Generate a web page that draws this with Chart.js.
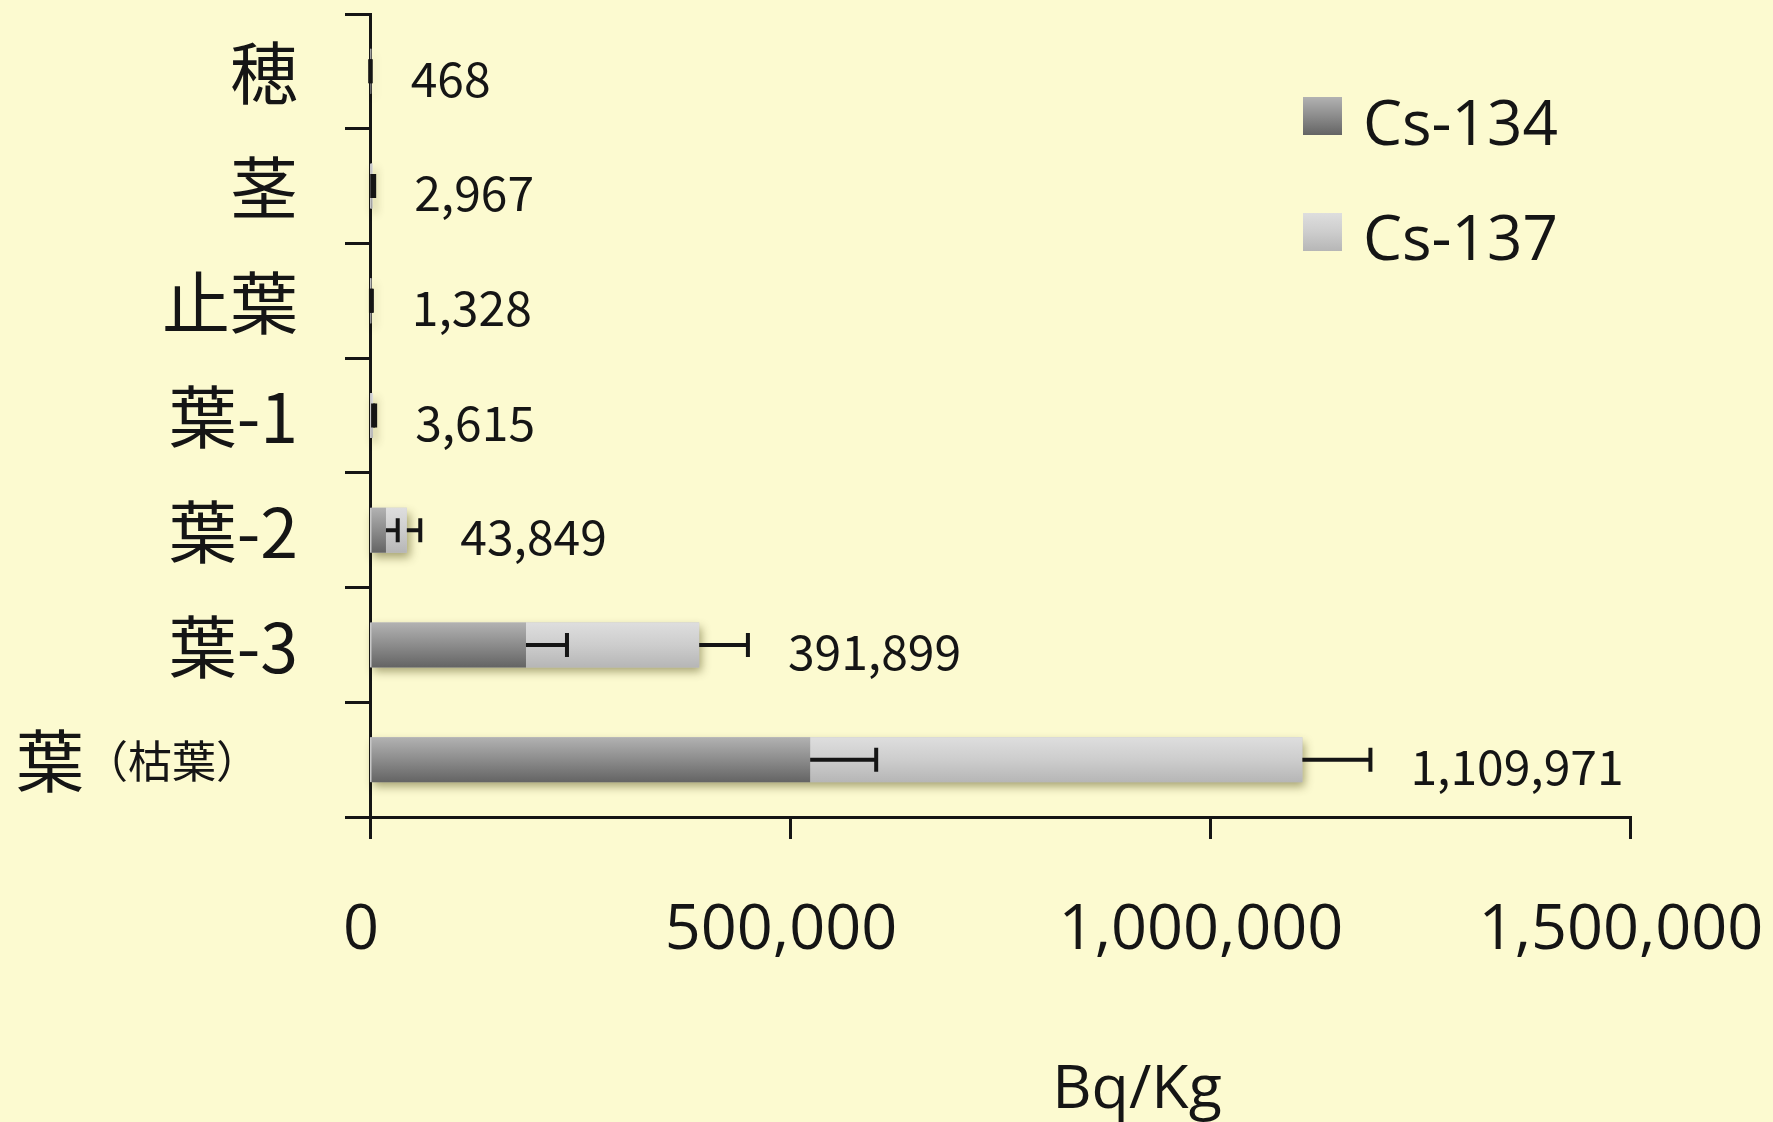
<!DOCTYPE html>
<html>
<head>
<meta charset="utf-8">
<script src="https://cdn.jsdelivr.net/npm/chart.js@4.4.1/dist/chart.umd.min.js"></script>
<style>
  html, body { margin: 0; padding: 0; background: #fcfad0; }
  #wrap { width: 1773px; height: 1122px; position: relative; }
  canvas { display: block; }
</style>
</head>
<body>
<div id="wrap"><canvas id="c" width="1773" height="1122"></canvas></div>
<script>
// ---- data ----
const categories = ['穂', '茎', '止葉', '葉-1', '葉-2', '葉-3', '葉（枯葉）'];
const seriesNames = ['Cs-134', 'Cs-137'];
const cs134 = [210, 1400, 620, 1700, 19000, 185700, 524000];
const cs137 = [258, 1567, 708, 1915, 24849, 206199, 585971];
const err134 = [150, 1300, 500, 2000, 14000, 48800, 78600];
const errTotal = [300, 2000, 900, 2500, 16000, 58000, 81000];
const totals = [468, 2967, 1328, 3615, 43849, 391899, 1109971];
const xTicks = [0, 500000, 1000000, 1500000];
const axisTitle = 'Bq/Kg';

// ---- styling ----
const BG = '#fcfad0';
const INK = '#151515';
const gradStops = {
  'Cs-134': ['#b2b2b2', '#8c8c8c', '#646464'],
  'Cs-137': ['#dedede', '#cdcdcd', '#b6b6b6']
};
const BAR_FRACTION = 0.392;

function makeGrad(ctx2d, y0, y1, name) {
  const g = ctx2d.createLinearGradient(0, y0, 0, y1);
  const s = gradStops[name];
  g.addColorStop(0, s[0]);
  g.addColorStop(0.5, s[1]);
  g.addColorStop(1, s[2]);
  return g;
}

function barColor(name) {
  return function (c) {
    const chart = c.chart;
    const y = chart.scales && chart.scales.y;
    if (!chart.chartArea || !y || c.dataIndex === undefined) return gradStops[name][1];
    const cat = (y.bottom - y.top) / categories.length;
    const mid = y.getPixelForValue(c.dataIndex);
    const h = cat * BAR_FRACTION / 2;
    return makeGrad(chart.ctx, mid - h, mid + h, name);
  };
}

const bgPlugin = {
  id: 'bg',
  beforeDraw(chart) {
    const ctx = chart.ctx;
    ctx.save();
    ctx.fillStyle = BG;
    ctx.fillRect(0, 0, chart.width, chart.height);
    ctx.restore();
  }
};

// soft drop shadow under every stacked bar
const shadowPlugin = {
  id: 'shadow',
  beforeDatasetsDraw(chart) {
    const ctx = chart.ctx, x = chart.scales.x, y = chart.scales.y;
    const cat = (y.bottom - y.top) / categories.length;
    const h = cat * BAR_FRACTION;
    ctx.save();
    ctx.shadowColor = 'rgba(60,55,0,0.45)';
    ctx.shadowBlur = 9;
    ctx.shadowOffsetX = 3;
    ctx.shadowOffsetY = 5;
    ctx.fillStyle = '#c8c8c8';
    for (let i = 0; i < categories.length; i++) {
      const mid = y.getPixelForValue(i);
      const x0 = x.getPixelForValue(0);
      const x1 = x.getPixelForValue(cs134[i] + cs137[i]);
      ctx.fillRect(x0, mid - h / 2, x1 - x0, h);
    }
    ctx.restore();
  }
};

// error bars, value labels, category labels, legend, axis title
const overlayPlugin = {
  id: 'overlay',
  afterDatasetsDraw(chart) {
    const ctx = chart.ctx, x = chart.scales.x, y = chart.scales.y;
    ctx.save();
    ctx.strokeStyle = INK;
    ctx.lineWidth = 4;
    const capH = 24;
    for (let i = 0; i < categories.length; i++) {
      const mid = y.getPixelForValue(i);
      const pairs = [
        [cs134[i], cs134[i] + err134[i]],
        [cs134[i] + cs137[i], cs134[i] + cs137[i] + errTotal[i]]
      ];
      pairs.forEach(([a, b]) => {
        const xa = x.getPixelForValue(a), xb = x.getPixelForValue(b);
        ctx.beginPath();
        ctx.moveTo(xa, mid); ctx.lineTo(xb, mid);
        ctx.moveTo(xb, mid - capH / 2); ctx.lineTo(xb, mid + capH / 2);
        ctx.stroke();
      });
      // total label
      const xl = x.getPixelForValue(cs134[i] + cs137[i] + errTotal[i]) + 40;
      ctx.fillStyle = INK;
      ctx.font = '48px "Noto Sans CJK JP", sans-serif';
      ctx.textAlign = 'left';
      ctx.textBaseline = 'middle';
      ctx.fillText(totals[i].toLocaleString('en-US'), xl, mid + 7);
    }
    ctx.restore();
  },
  afterDraw(chart) {
    const ctx = chart.ctx, x = chart.scales.x, y = chart.scales.y;
    ctx.save();
    ctx.fillStyle = INK;
    ctx.textBaseline = 'middle';
    // category labels
    categories.forEach((lab, i) => {
      const mid = y.getPixelForValue(i) + 2;
      const p = lab.indexOf('（');
      if (p > 0) {
        const head = lab.slice(0, p), tail = lab.slice(p);
        ctx.textAlign = 'left';
        ctx.font = '68px "Noto Sans CJK JP", sans-serif';
        const startX = 16;
        ctx.fillText(head, startX, mid);
        const w = ctx.measureText(head).width;
        ctx.font = '44px "Noto Sans CJK JP", sans-serif';
        ctx.fillText(tail, startX + w, mid);
      } else {
        ctx.textAlign = 'right';
        ctx.font = '68px "Noto Sans CJK JP", sans-serif';
        ctx.fillText(lab, 298, mid);
      }
    });
    // legend
    const legendItems = [
      { name: seriesNames[0], box: [1303, 97], base: 145 },
      { name: seriesNames[1], box: [1303, 213], base: 260 }
    ];
    legendItems.forEach(it => {
      const [bx, by] = it.box;
      ctx.fillStyle = makeGrad(ctx, by, by + 38, it.name);
      ctx.fillRect(bx, by, 39, 38);
      ctx.fillStyle = INK;
      ctx.font = '62px "Open Sans", sans-serif';
      ctx.textAlign = 'left';
      ctx.textBaseline = 'alphabetic';
      ctx.fillText(it.name, 1363, it.base);
    });
    // axis title
    ctx.font = '61px "Open Sans", sans-serif';
    ctx.textAlign = 'center';
    ctx.textBaseline = 'alphabetic';
    ctx.fillText(axisTitle, 1137, 1108);
    ctx.restore();
  }
};

new Chart(document.getElementById('c'), {
  type: 'bar',
  data: {
    labels: categories,
    datasets: [
      { label: seriesNames[0], data: cs134, backgroundColor: barColor('Cs-134'), borderWidth: 0 },
      { label: seriesNames[1], data: cs137, backgroundColor: barColor('Cs-137'), borderWidth: 0 }
    ]
  },
  options: {
    indexAxis: 'y',
    responsive: false,
    animation: false,
    devicePixelRatio: 1,
    barPercentage: BAR_FRACTION,
    categoryPercentage: 1,
    layout: { padding: { left: 0, right: 0, top: 14, bottom: 0 } },
    plugins: { legend: { display: false }, tooltip: { enabled: false } },
    scales: {
      x: {
        stacked: true,
        min: 0,
        max: 1500000,
        afterBuildTicks: s => { s.ticks = xTicks.map(v => ({ value: v })); },
        afterFit: s => { s.height = 305; s.paddingRight = 143; },
        border: { display: true, color: INK, width: 3 },
        grid: { display: true, drawOnChartArea: false, drawTicks: true, tickLength: 22, color: INK, lineWidth: 3 },
        ticks: {
          color: INK,
          padding: 54,
          labelOffset: -9,
          maxRotation: 0,
          font: { family: '"Open Sans", sans-serif', size: 63 },
          callback: v => Number(v).toLocaleString('en-US')
        }
      },
      y: {
        stacked: true,
        afterFit: s => { s.width = 370; },
        border: { display: true, color: INK, width: 3 },
        grid: { display: true, drawOnChartArea: false, drawTicks: true, tickLength: 25, color: INK, lineWidth: 3, offset: true },
        ticks: { display: false }
      }
    }
  },
  plugins: [bgPlugin, shadowPlugin, overlayPlugin]
});
</script>
</body>
</html>
